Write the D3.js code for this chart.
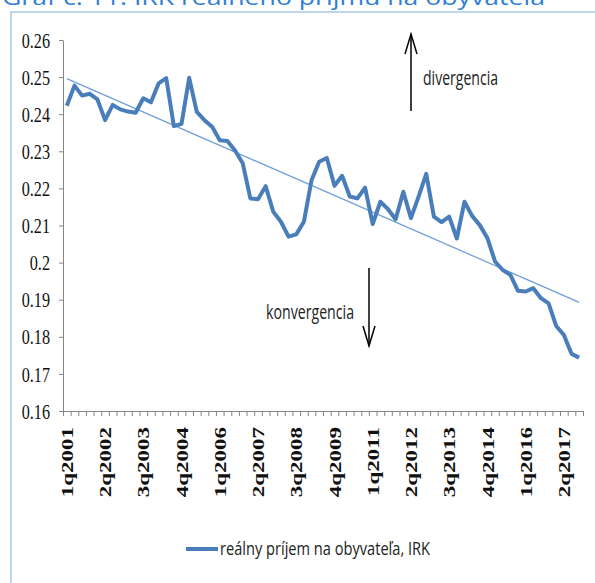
<!DOCTYPE html>
<html>
<head>
<meta charset="utf-8">
<script src="https://cdn.jsdelivr.net/npm/d3@7"></script>
<style>
  body { margin: 0; background: #fff; }
  text { font-kerning: normal; }
</style>
</head>
<body>
<script>
// Data
var startYear = 2001, endYear = 2017;
var categories = [];
for (var yr = startYear; yr <= endYear; yr++) {
  for (var q = 1; q <= 4; q++) categories.push(q + 'q' + yr);
}

var irkValues = [
  0.2423, 0.2477, 0.2450, 0.2455, 0.2440, 0.2384, 0.2425, 0.2413, 0.2407, 0.2404,
  0.2443, 0.2432, 0.2483, 0.2497, 0.2368, 0.2374, 0.2498, 0.2406, 0.2384, 0.2366,
  0.2330, 0.2328, 0.2302, 0.2268, 0.2173, 0.2171, 0.2206, 0.2137, 0.2110, 0.2070,
  0.2076, 0.2110, 0.2222, 0.2272, 0.2282, 0.2207, 0.2234, 0.2178, 0.2173, 0.2202,
  0.2104, 0.2164, 0.2144, 0.2117, 0.2191, 0.2120, 0.2178, 0.2239, 0.2124, 0.2109,
  0.2124, 0.2065, 0.2164, 0.2126, 0.2101, 0.2066, 0.2003, 0.1980, 0.1967, 0.1924,
  0.1922, 0.1931, 0.1904, 0.1890, 0.1829, 0.1805, 0.1754, 0.1744
];

// linear trend, first and last value
var trendValues = [0.2496, 0.1893];

var xTickLabels = ['1q2001', '2q2002', '3q2003', '4q2004', '1q2006', '2q2007', '3q2008',
  '4q2009', '1q2011', '2q2012', '3q2013', '4q2014', '1q2016', '2q2017'];
var yTickValues = [0.16, 0.17, 0.18, 0.19, 0.20, 0.21, 0.22, 0.23, 0.24, 0.25, 0.26];
var yTickLabels = ['0.16', '0.17', '0.18', '0.19', '0.2', '0.21', '0.22', '0.23', '0.24', '0.25', '0.26'];

var title = 'Graf č. 11: IRK reálneho príjmu na obyvateľa';
var seriesName = 'reálny príjem na obyvateľa, IRK';

var width = 595, height = 583;
var plot = {left: 63, right: 583, top: 40, bottom: 411};
var squish = 0.77;   // the original is narrowed horizontally
var lineBlue = '#4a7ebb';
var axisGrey = '#868686';
var calibri = '"Liberation Sans Narrow", "Open Sans", sans-serif';

var svg = d3.select('body').append('svg')
    .attr('width', width)
    .attr('height', height);

// frame and title
svg.append('path')
    .attr('d', 'M11,' + height + 'V12H' + width)
    .attr('fill', 'none')
    .attr('stroke', '#a9c9ec')
    .attr('stroke-width', 1.5);

svg.append('text')
    .attr('x', 2).attr('y', 5)
    .attr('textLength', 543).attr('lengthAdjust', 'spacingAndGlyphs')
    .style('font-family', calibri).style('font-size', '22px')
    .style('fill', '#2f80d4')
    .text(title);

// scales
var x = d3.scaleBand().domain(categories).range([plot.left, plot.right]);
var xIdx = d3.scaleLinear().domain([0, categories.length]).range([plot.left, plot.right]);
var y = d3.scaleLinear().domain([0.16, 0.26]).range([plot.bottom, plot.top]);
var cx = function(c) { return x(c) + x.bandwidth() / 2; };

// y axis
var yAxisG = svg.append('g')
    .attr('transform', 'translate(' + plot.left + ',0)')
    .call(d3.axisLeft(y).tickValues(yTickValues).tickSize(4).tickSizeOuter(0)
      .tickFormat(function(d, i) { return yTickLabels[i]; }));
yAxisG.select('.domain').attr('stroke', axisGrey);
yAxisG.selectAll('.tick line').attr('stroke', axisGrey);
yAxisG.selectAll('.tick text')
    .attr('x', 0).attr('dy', '0.34em')
    .attr('transform', 'translate(-13,0) scale(' + squish + ',1)')
    .style('font-family', '"Liberation Serif", serif')
    .style('font-size', '21px')
    .style('fill', '#111');

// x axis (ticks between categories)
var xAxisG = svg.append('g')
    .attr('transform', 'translate(0,' + plot.bottom + ')')
    .call(d3.axisBottom(xIdx).tickValues(d3.range(categories.length + 1))
      .tickSize(5).tickSizeOuter(0).tickFormat(''));
xAxisG.select('.domain').attr('stroke', axisGrey);
xAxisG.selectAll('.tick line').attr('stroke', axisGrey);

svg.append('g').selectAll('text')
    .data(xTickLabels).enter().append('text')
    .attr('transform', function(d) {
      return 'translate(' + cx(d) + ',427) scale(' + squish + ',1) rotate(-90)';
    })
    .attr('dy', '0.35em')
    .attr('text-anchor', 'end')
    .style('font-family', '"Liberation Serif", serif')
    .style('font-size', '23px')
    .style('font-weight', 'bold')
    .style('fill', '#111')
    .text(function(d) { return d; });

// trend line
svg.append('path')
    .datum(trendValues)
    .attr('d', d3.line()
      .x(function(d, i) { return i === 0 ? cx(categories[0]) : cx(categories[categories.length - 1]); })
      .y(function(d) { return y(d); }))
    .attr('fill', 'none')
    .attr('stroke', '#6fa0da')
    .attr('stroke-width', 1.3);

// series
svg.append('path')
    .datum(irkValues)
    .attr('d', d3.line()
      .x(function(d, i) { return cx(categories[i]); })
      .y(function(d) { return y(d); }))
    .attr('fill', 'none')
    .attr('stroke', lineBlue)
    .attr('stroke-width', 4)
    .attr('stroke-linejoin', 'round');

// arrows with notes
function arrow(xp, yFrom, yTo) {
  var dir = yTo < yFrom ? 1 : -1;
  svg.append('line')
      .attr('x1', xp).attr('y1', yFrom).attr('x2', xp).attr('y2', yTo)
      .attr('stroke', '#000').attr('stroke-width', 1.5);
  svg.append('path')
      .attr('d', 'M' + (xp - 6) + ',' + (yTo + dir * 20) + 'L' + xp + ',' + yTo + 'L' + (xp + 6) + ',' + (yTo + dir * 20))
      .attr('fill', 'none').attr('stroke', '#000').attr('stroke-width', 1.5);
}
arrow(411, 111, 34);
arrow(369, 268, 346);

svg.append('text')
    .attr('x', 423).attr('y', 85)
    .attr('textLength', 75).attr('lengthAdjust', 'spacingAndGlyphs')
    .style('font-family', calibri).style('font-size', '20px').style('fill', '#222')
    .text('divergencia');

svg.append('text')
    .attr('x', 266).attr('y', 319)
    .attr('textLength', 88).attr('lengthAdjust', 'spacingAndGlyphs')
    .style('font-family', calibri).style('font-size', '20px').style('fill', '#222')
    .text('konvergencia');

// legend
svg.append('line')
    .attr('x1', 186).attr('y1', 549).attr('x2', 218).attr('y2', 549)
    .attr('stroke', lineBlue).attr('stroke-width', 4);
svg.append('text')
    .attr('x', 220).attr('y', 555)
    .attr('textLength', 210).attr('lengthAdjust', 'spacingAndGlyphs')
    .style('font-family', calibri).style('font-size', '18px').style('fill', '#222')
    .text(seriesName);
</script>
</body>
</html>
